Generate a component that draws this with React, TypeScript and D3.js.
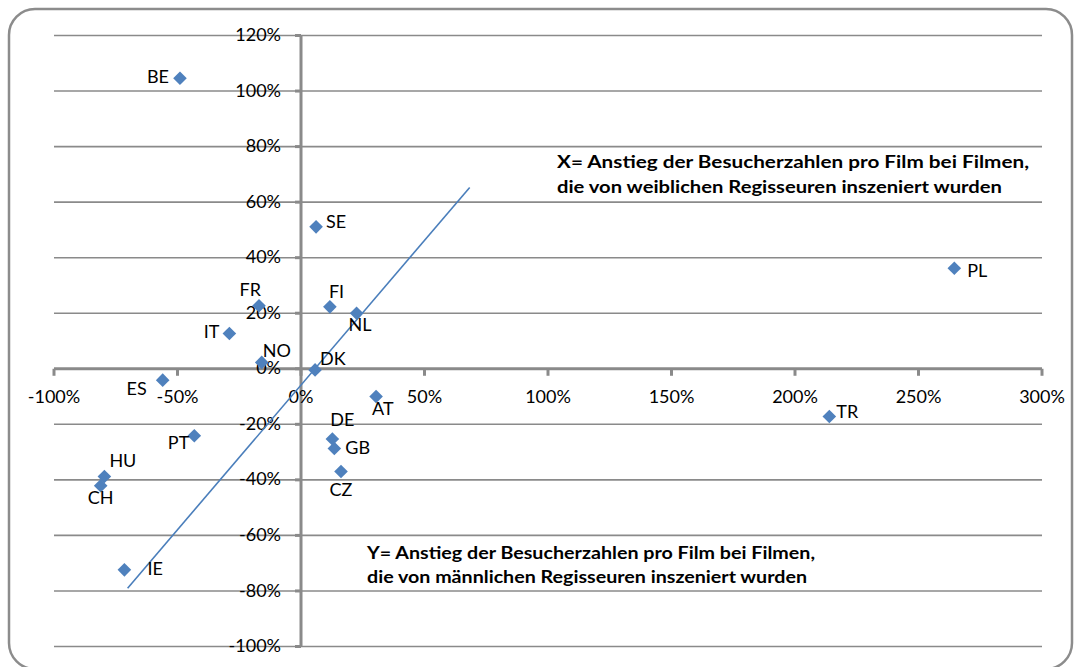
import React from "react";
import * as d3 from "d3";

// Data (percent values)
const countries = ["BE", "SE", "FR", "IT", "NO", "FI", "NL", "DK", "ES", "AT", "PT", "HU", "CH", "DE", "GB", "CZ", "IE", "PL", "TR"];
const femaleGrowth = [-49.0, 6.1, -17.0, -29.0, -15.9, 11.7, 22.5, 5.7, -56.0, 30.4, -43.2, -79.6, -81.1, 12.7, 13.5, 16.2, -71.5, 264.5, 213.9];
const maleGrowth = [104.6, 51.1, 22.7, 12.7, 2.3, 22.3, 20.0, -0.4, -4.1, -10.0, -24.1, -38.8, -42.1, -25.3, -28.7, -37.0, -72.4, 36.2, -17.2];
const trendX = [-70.2, 68.3];
const trendY = [-79.0, 65.3];
const xTicks = [-100, -50, 0, 50, 100, 150, 200, 250, 300];
const yTicks = [-100, -80, -60, -40, -20, 0, 20, 40, 60, 80, 100, 120];
const xNoteLines = ["X= Anstieg der Besucherzahlen pro Film bei Filmen,", "die von weiblichen Regisseuren inszeniert wurden"];
const yNoteLines = ["Y= Anstieg der Besucherzahlen pro Film bei Filmen,", "die von männlichen Regisseuren inszeniert wurden"];

// Layout of the point labels (pixel offsets from marker, anchor)
const labelPlacement: Record<string, [number, number, string]> = {
  BE: [-11, 0, "end"],
  SE: [10, -3, "start"],
  FR: [2, -14, "end"],
  IT: [-10, 0, "end"],
  NO: [1, -10, "start"],
  FI: [-1, -13, "start"],
  NL: [-8, 13, "start"],
  DK: [5, -9, "start"],
  ES: [-16, 10, "end"],
  AT: [-4, 14, "start"],
  PT: [-5, 9, "end"],
  HU: [5, -14, "start"],
  CH: [0, 14, "middle"],
  DE: [-2, -18, "start"],
  GB: [11, 1, "start"],
  CZ: [0, 20, "middle"],
  IE: [23, 1, "start"],
  PL: [13, 4, "start"],
  TR: [7, -3, "start"],
};

const W = 1075;
const H = 667;
const FONT = "Lato, 'Open Sans', 'Liberation Sans', sans-serif";
const GRID = "#8a8a8a";
const BLUE = "#4F81BD";

export default function App() {
  const x = d3.scaleLinear().domain([-100, 300]).range([54, 1042]);
  const y = d3.scaleLinear().domain([-100, 120]).range([646.5, 35.5]);
  const x0 = x(0);
  const y0 = y(0);
  const diamond = d3.symbol().type(d3.symbolDiamond2).size(118)()!;
  const trend = d3.line<number>().x((_, i) => x(trendX[i])).y((d) => y(d))(trendY)!;

  return (
    <svg
      width={W}
      height={H}
      style={{ position: "fixed", left: 0, top: 0, background: "#fff" }}
      fontFamily={FONT}
    >
      <rect x={0} y={0} width={W} height={H} fill="#fff" />
      <rect x={9} y={9} width={1063} height={660} rx={26} ry={26} fill="none" stroke="#8c8c8c" strokeWidth={2.5} />

      {/* horizontal gridlines */}
      {yTicks.map((t) => (
        <line key={"g" + t} x1={x(-100)} x2={x(300)} y1={y(t)} y2={y(t)} stroke={GRID} strokeWidth={1.6} />
      ))}

      {/* axes */}
      <line x1={x(-100)} x2={x(300)} y1={y0} y2={y0} stroke={GRID} strokeWidth={3} />
      <line x1={x0} x2={x0} y1={y(120)} y2={y(-100)} stroke={GRID} strokeWidth={3} />
      {xTicks.map((t) => (
        <line key={"xt" + t} x1={x(t)} x2={x(t)} y1={y0} y2={y0 + 7} stroke={GRID} strokeWidth={3} />
      ))}
      {yTicks.map((t) => (
        <line key={"yt" + t} x1={x0 - 6} x2={x0} y1={y(t)} y2={y(t)} stroke={GRID} strokeWidth={3} />
      ))}

      {/* tick labels */}
      {xTicks.map((t) => (
        <text key={"xl" + t} x={x(t)} y={y0 + 30} textAnchor="middle" dominantBaseline="middle" fontSize={18} fill="#000">
          {t + "%"}
        </text>
      ))}
      {yTicks.map((t) => (
        <text key={"yl" + t} x={x0 - 20} y={y(t) + 1} textAnchor="end" dominantBaseline="middle" fontSize={18} fill="#000">
          {t + "%"}
        </text>
      ))}

      {/* trendline */}
      <path d={trend} fill="none" stroke="#4A7EBB" strokeWidth={1.6} />

      {/* points */}
      {countries.map((c, i) => (
        <path key={"p" + c} d={diamond} transform={`translate(${x(femaleGrowth[i])},${y(maleGrowth[i])})`} fill={BLUE} />
      ))}
      {countries.map((c, i) => {
        const [dx, dy, anchor] = labelPlacement[c];
        return (
          <text
            key={"l" + c}
            x={x(femaleGrowth[i]) + dx}
            y={y(maleGrowth[i]) + dy}
            textAnchor={anchor as any}
            dominantBaseline="middle"
            fontSize={18}
            fill="#000"
          >
            {c}
          </text>
        );
      })}

      {/* annotations */}
      <text x={557} y={168} fontSize={16.5} fontWeight="bold" fill="#000" textLength={472} lengthAdjust="spacingAndGlyphs">
        {xNoteLines[0]}
      </text>
      <text x={557} y={193} fontSize={16.5} fontWeight="bold" fill="#000" textLength={445} lengthAdjust="spacingAndGlyphs">
        {xNoteLines[1]}
      </text>
      <text x={367} y={559} fontSize={16.5} fontWeight="bold" fill="#000" textLength={448} lengthAdjust="spacingAndGlyphs">
        {yNoteLines[0]}
      </text>
      <text x={367} y={583} fontSize={16.5} fontWeight="bold" fill="#000" textLength={440} lengthAdjust="spacingAndGlyphs">
        {yNoteLines[1]}
      </text>
    </svg>
  );
}
